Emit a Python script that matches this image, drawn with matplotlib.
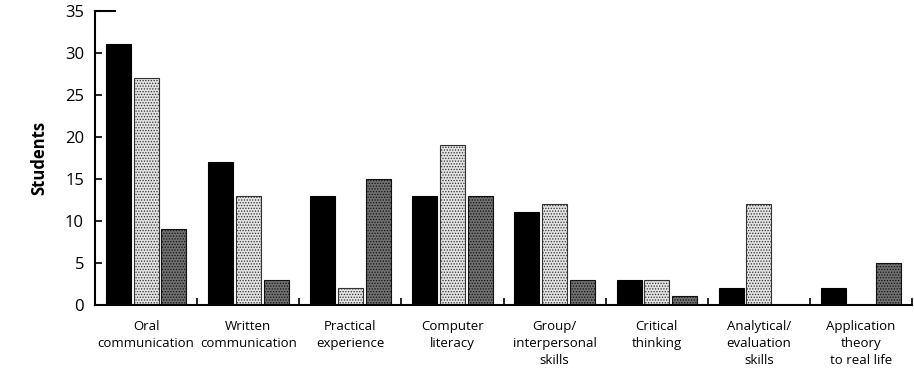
import matplotlib
matplotlib.use('Agg')
import matplotlib.pyplot as plt
import numpy as np

plt.rcParams['font.family'] = ['Open Sans', 'DejaVu Sans']
plt.rcParams['hatch.linewidth'] = 0.6

categories = [
    'Oral\ncommunication',
    'Written\ncommunication',
    'Practical\nexperience',
    'Computer\nliteracy',
    'Group/\ninterpersonal\nskills',
    'Critical\nthinking',
    'Analytical/\nevaluation\nskills',
    'Application\ntheory\nto real life',
]
series_black = [31, 17, 13, 13, 11, 3, 2, 2]
series_light = [27, 13, 2, 19, 12, 3, 12, 0]
series_dark  = [9, 3, 15, 13, 3, 1, 0, 5]

BAR_W  = 0.245
OFFSET = 0.272

fig = plt.figure(figsize=(9.14, 3.70), dpi=100, facecolor='white')
ax = fig.add_axes([0.104, 0.176, 0.894, 0.795])

x = np.arange(len(categories))
ax.bar(x - OFFSET, series_black, BAR_W, color='black', edgecolor='black', linewidth=0.8)
ax.bar(x, series_light, BAR_W, color='#e2e2e2', edgecolor='#333333',
       linewidth=0.8, hatch='......')
ax.bar(x + OFFSET, series_dark, BAR_W, color='#707070', edgecolor='#111111',
       linewidth=0.8, hatch='......')

ax.set_xlim(-0.5, len(categories) - 0.5)
ax.set_ylim(0, 35)
ax.set_yticks(np.arange(0, 36, 5))
ax.set_xticks(x)
ax.set_xticklabels(categories, fontsize=9.5, linespacing=1.4)
ax.set_xticks(np.arange(0.5, len(categories), 1), minor=True)
ax.tick_params(axis='x', which='major', length=0, pad=11)
ax.tick_params(axis='x', which='minor', direction='in', length=5, width=1.2)
ax.tick_params(axis='y', direction='in', length=5, width=1.2, labelsize=12, pad=8)

for side in ['top', 'right']:
    ax.spines[side].set_visible(False)
for side in ['left', 'bottom']:
    ax.spines[side].set_linewidth(1.5)

# longer cap at the top of the y axis
ax.axhline(35, xmin=0, xmax=0.025, color='black', lw=1.5, clip_on=False)

ax.set_ylabel('Students', fontsize=12, fontweight='bold', labelpad=12)

plt.savefig('out.png', dpi=100, facecolor='white')
